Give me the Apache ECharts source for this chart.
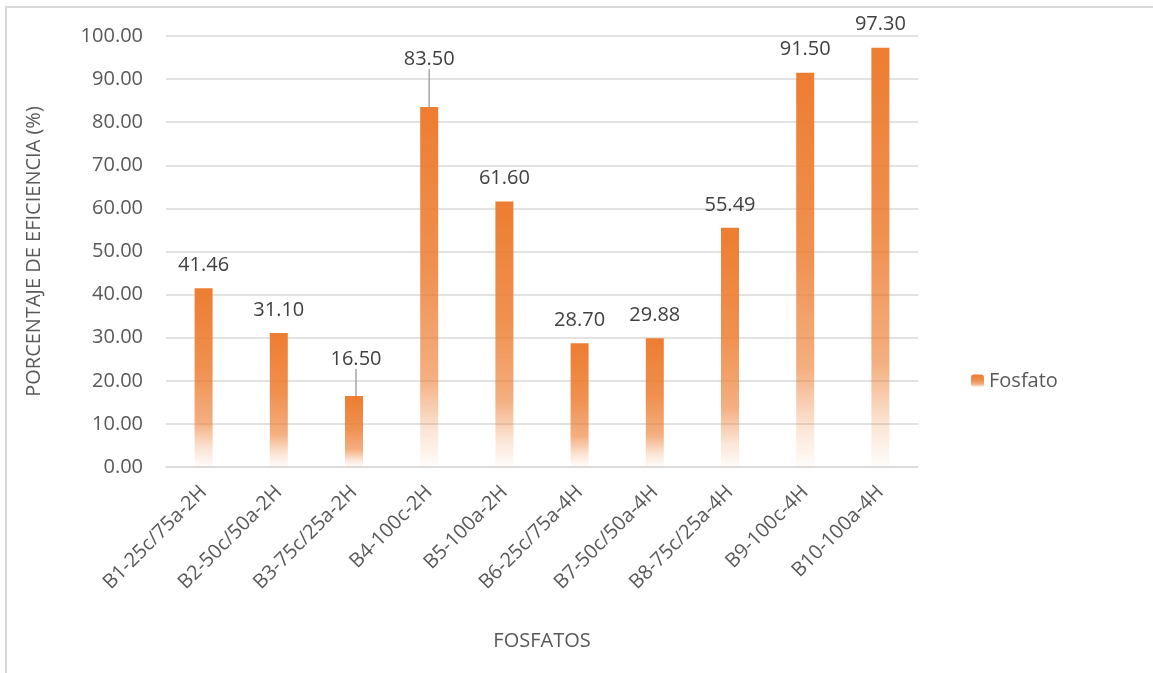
<!DOCTYPE html>
<html><head><meta charset="utf-8">
<script src="https://cdn.jsdelivr.net/npm/echarts@6/dist/echarts.min.js"></script>
<style>html,body{margin:0;padding:0;background:#fff}#c{width:1153px;height:673px}
#frame{position:absolute;left:5px;top:6px;width:1160px;height:680px;border:2px solid #D9D9D9;box-sizing:border-box;pointer-events:none}</style>
</head><body><div id="c"></div><div id="frame"></div>
<script>
var categories = ['B1-25c/75a-2H','B2-50c/50a-2H','B3-75c/25a-2H','B4-100c-2H','B5-100a-2H','B6-25c/75a-4H','B7-50c/50a-4H','B8-75c/25a-4H','B9-100c-4H','B10-100a-4H'];
var values = [41.46, 31.10, 16.50, 83.50, 61.60, 28.70, 29.88, 55.49, 91.50, 97.30];
var seriesName = 'Fosfatos';
var font = 'Open Sans';
var grad = {type:'linear',x:0,y:0,x2:0,y2:1,colorStops:[
  {offset:0,color:'rgba(237,125,49,1)'},
  {offset:0.45,color:'rgba(237,125,49,0.85)'},
  {offset:0.75,color:'rgba(237,125,49,0.62)'},
  {offset:0.9,color:'rgba(237,125,49,0.2)'},
  {offset:1,color:'rgba(237,125,49,0.02)'}]};
var leader = {2:true, 3:true};
var barData = values.map(function(v,i){
  return {value:v, labelLine:{show:!!leader[i]}};
});
var chart = echarts.init(document.getElementById('c'));
chart.setOption({
  animation:false,
  grid:{left:166,right:235,top:36,bottom:206},
  legend:{orient:'vertical',left:966,top:366,itemWidth:13,itemHeight:13,itemGap:0,
    textStyle:{fontFamily:font,fontSize:20,color:'#595959',width:74,overflow:'truncate',ellipsis:''},
    data:[seriesName]},
  xAxis:{type:'category',data:categories,
    name:'FOSFATOS',nameLocation:'middle',nameGap:164,
    nameTextStyle:{fontFamily:font,fontSize:20,color:'#595959'},
    axisTick:{show:false},
    axisLine:{lineStyle:{color:'#D9D9D9',width:1.5}},
    axisLabel:{rotate:45,interval:0,margin:22,fontFamily:font,fontSize:20,color:'#595959'}},
  yAxis:{type:'value',min:0,max:100,interval:10,
    name:'PORCENTAJE DE EFICIENCIA (%)',nameLocation:'middle',nameGap:122,
    nameTextStyle:{fontFamily:font,fontSize:20,color:'#595959'},
    axisLabel:{formatter:function(v){return v.toFixed(2);},margin:23,fontFamily:font,fontSize:20,color:'#595959'},
    splitLine:{lineStyle:{color:'#D9D9D9',width:1.5}},
    axisLine:{show:false},axisTick:{show:false}},
  series:[{name:seriesName,type:'bar',barWidth:18,data:barData,
    itemStyle:{color:grad},
    label:{show:true,position:'top',distance:13,fontFamily:font,fontSize:20,color:'#404040',
      formatter:function(p){return p.value.toFixed(2);}},
    labelLayout:function(p){
      if(p.dataIndex===3) return {dy:-25};
      if(p.dataIndex===2) return {dy:-14,dx:2};
      return {};
    },
    labelLine:{lineStyle:{color:'#A6A6A6',width:1.5},minTurnAngle:0},
    z:1}]
});
</script></body></html>
